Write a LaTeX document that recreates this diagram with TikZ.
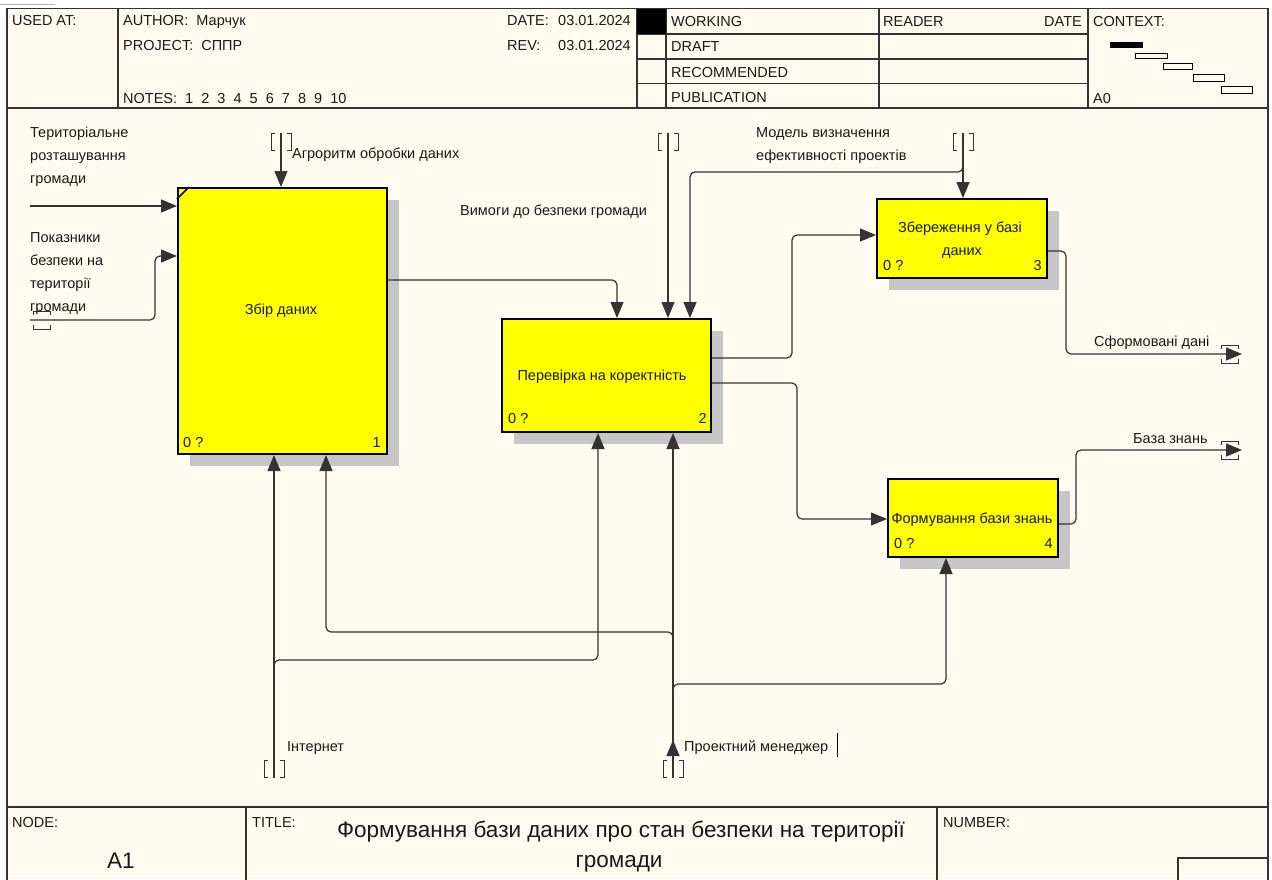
\documentclass[tikz,border=0pt]{standalone}
\usepackage{fontspec}
\setmainfont{Liberation Sans}
\usetikzlibrary{arrows.meta,calc,shadows}

\definecolor{paper}{RGB}{255,251,240}
\definecolor{boxyellow}{RGB}{255,255,0}

\tikzset{
  actbox/.style={draw=black, line width=2pt, fill=boxyellow, inner sep=0pt,
    drop shadow={shadow xshift=12pt, shadow yshift=-12pt, fill=gray!45, opacity=1}},
  flow/.style={draw=black!80, line width=1.2pt, rounded corners=5pt},
  flowarr/.style={flow, -{Triangle[length=16pt,width=13pt]}},
  tunnel/.style={draw=black!80, line width=1pt},
  frameline/.style={draw=black!80, line width=1.4pt},
  txt/.style={font=\fontsize{14.5}{23}\selectfont, inner sep=0pt, anchor=base west, text=black!90},
  txtr/.style={txt, anchor=base east},
  txtc/.style={txt, anchor=base},
  multi/.style={txt, anchor=north west, align=left},
  bigtxt/.style={txt, font=\fontsize{22.5}{27}\selectfont, anchor=base},
}

% tunnel brackets
\newcommand\vtunnel[1]{\draw[tunnel] ([xshift=-6pt]#1) -- ++(-4,0) -- ++(0,17) -- ++(4,0)
  ([xshift=6pt]#1) -- ++(4,0) -- ++(0,17) -- ++(-4,0);}
\newcommand\htunnel[1]{\draw[tunnel] ([yshift=5pt]#1) -- ++(0,-4) -- ++(17,0) -- ++(0,4)
  ([yshift=-5pt]#1) -- ++(0,4) -- ++(17,0) -- ++(0,-4);}

\begin{document}
\begin{tikzpicture}[x=1pt,y=-1pt]
  \useasboundingbox (0,0) rectangle (1272,879);
  \fill[white] (0,0) rectangle (1272,879);
  \fill[paper] (7,8.5) rectangle (1268,879);
  \draw[gray!60, line width=1pt] (0,4) -- (55,4);

  % frame
  \draw[frameline] (7,880) -- (7,8.5) -- (1268,8.5) -- (1268,880);
  \draw[frameline] (7,108) -- (1268,108);
  \draw[frameline] (7,807) -- (1268,807);
  \foreach \x in {118,637,666,879,1088}
    \draw[frameline] (\x,8.5) -- (\x,108);
  \foreach \y in {34,59,83.5}
    \draw[frameline] (637,\y) -- (1088,\y);
  \fill[black] (637,8.5) rectangle (666,34);
  \draw[frameline] (246,807) -- (246,880);
  \draw[frameline] (937,807) -- (937,880);
  \draw[frameline] (1178,880) -- (1178,858) -- (1268,858);

  % header texts
  \node[txt] at (12,25) {USED AT:};
  \node[txt] at (123,25) {AUTHOR:\ \ Марчук};
  \node[txt] at (123,50) {PROJECT:\ \ СППР};
  \node[txt] at (123,103) {NOTES:\ \ 1\ \ 2\ \ 3\ \ 4\ \ 5\ \ 6\ \ 7\ \ 8\ \ 9\ \ 10};
  \node[txt] at (507,25) {DATE:};
  \node[txtr] at (631,25) {03.01.2024};
  \node[txt] at (507,50) {REV:};
  \node[txtr] at (631,50) {03.01.2024};
  \node[txt] at (671,26) {WORKING};
  \node[txt] at (671,51) {DRAFT};
  \node[txt] at (671,77) {RECOMMENDED};
  \node[txt] at (671,102) {PUBLICATION};
  \node[txt] at (883,26) {READER};
  \node[txtr] at (1082,26) {DATE};
  \node[txt] at (1093,26) {CONTEXT:};
  \node[txt] at (1093,103) {A0};
  % context
  \fill[black] (1110,42) rectangle (1143,48);
  \draw[line width=1pt] (1135,53) rectangle (1167,58)
    (1163,63.5) rectangle (1192,69.5)
    (1193,74.5) rectangle (1224,81)
    (1221,86.5) rectangle (1252,93);

  % activity boxes
  \node[actbox, minimum width=209pt, minimum height=266pt] (b1) at (282.5,321) {};
  \node[actbox, minimum width=209pt, minimum height=113pt] (b2) at (606.5,375.5) {};
  \node[actbox, minimum width=170pt, minimum height=79pt] (b3) at (962,238.5) {};
  \node[actbox, minimum width=170pt, minimum height=78pt] (b4) at (973,518) {};
  \draw[line width=1.5pt] ([yshift=-12pt]b1.north west) -- ([xshift=12pt]b1.north west);

  \node[txtc] at (281,314) {Збір даних};
  \node[txt] at (183,447) {0 ?};
  \node[txtr] at (381,447) {1};
  \node[txtc] at (602,380) {Перевірка на коректність};
  \node[txt] at (508,423) {0 ?};
  \node[txtr] at (707,423) {2};
  \node[txtc] at (960,232) {Збереження у базі};
  \node[txtc] at (962,255) {даних};
  \node[txt] at (883,270) {0 ?};
  \node[txtr] at (1042,270) {3};
  \node[txtc] at (972,523) {Формування бази знань};
  \node[txt] at (894,548) {0 ?};
  \node[txtr] at (1053,548) {4};

  % boundary points
  \coordinate (in1) at (30,206);
  \coordinate (in2) at (30,320);
  \coordinate (ctl1) at (281,133);
  \coordinate (ctl2) at (668,133);
  \coordinate (ctl3) at (963,133);
  \coordinate (mech1) at (274,778);
  \coordinate (mech2) at (673,778);
  \coordinate (out1) at (1242,354);
  \coordinate (out2) at (1242,450);

  % inputs
  \draw[flowarr] (in1) -- (in1 -| b1.west);
  \draw[flowarr] (in2) -| (155,256) -- (b1.west |- 0,256);
  \htunnel{33,320}
  % controls
  \draw[flowarr] (ctl1) -- (ctl1 |- b1.north);
  \vtunnel{ctl1}
  \draw[flowarr] (ctl2) -- (ctl2 |- b2.north);
  \vtunnel{ctl2}
  \draw[flowarr] (ctl3) -- (ctl3 |- b3.north);
  \draw[flowarr] (ctl3 |- 0,160) |- (690,172) -- ([xshift=83.5pt]b2.north);
  \vtunnel{ctl3}
  % box to box
  \draw[flowarr] (b1.east |- 0,280) -| ([xshift=10.5pt]b2.north);
  \draw[flowarr] (b2.east |- 0,358) -| (792,235) -- (b3.west |- 0,235);
  \draw[flowarr] (b2.east |- 0,383) -| (797,519) -- (b4.west |- 0,519);
  % outputs
  \draw[flowarr] (b3.east |- 0,251) -| (1066,354) -- (out1);
  \htunnel{1221,354}
  \draw[flowarr] (b4.east |- 0,524) -| (1076,450) -- (out2);
  \htunnel{1221,450}
  % mechanisms
  \draw[flowarr] (mech1) -- (mech1 |- b1.south);
  \draw[flowarr] (mech1 |- 0,672) |- (598,660) -- (b2.south -| 598,0);
  \vtunnel{274,760}
  \draw[flowarr] (mech2) -- (mech2 |- b2.south);
  \draw[flowarr] (mech2) -- (673,740);
  \draw[flowarr] (mech2 |- 0,644) |- (326,632) -- (b1.south -| 326,0);
  \draw[flowarr] (mech2 |- 0,696) |- (946,684) -- (b4.south -| 946,0);
  \vtunnel{673,760}

  % arrow labels
  \node[multi] at (30,126.6) {Територіальне\\розташування\\громади};
  \node[multi] at (30,232.6) {Показники\\безпеки на\\території\\громади};
  \node[txt] at (292,158) {Агроритм обробки даних};
  \node[txt] at (460,215) {Вимоги до безпеки громади};
  \node[multi] at (756,127.6) {Модель визначення\\ефективності проектів};
  \node[txt] at (1094,346) {Сформовані дані};
  \node[txt] at (1133,443) {База знань};
  \node[txt] at (287,751) {Інтернет};
  \node[txt] at (684,751) {Проектний менеджер};
  \draw[line width=1pt] (837,733) -- (837,757);

  % bottom
  \node[txt] at (12,827) {NODE:};
  \node[bigtxt] at (121,868) {A1};
  \node[txt] at (252,827) {TITLE:};
  \node[bigtxt] at (621,837) {Формування бази даних про стан безпеки на території};
  \node[bigtxt] at (619,867) {громади};
  \node[txt] at (943,827) {NUMBER:};
\end{tikzpicture}
\end{document}
